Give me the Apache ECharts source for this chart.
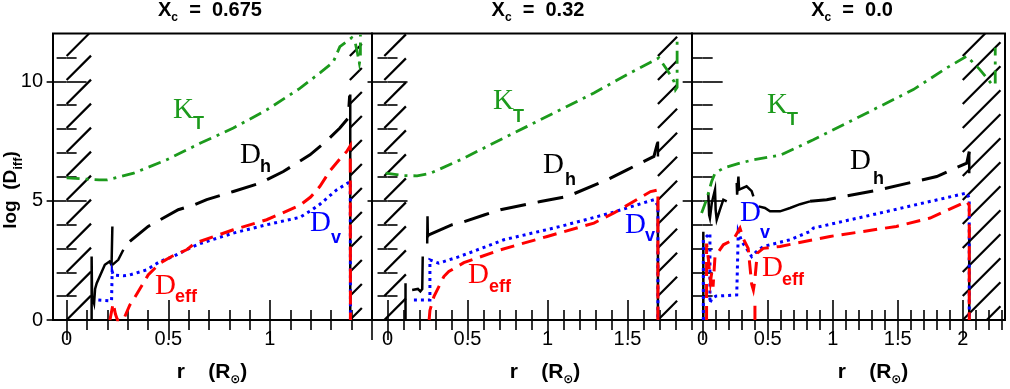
<!DOCTYPE html>
<html>
<head>
<meta charset="utf-8">
<script src="https://cdn.jsdelivr.net/npm/echarts@6/dist/echarts.min.js"></script>
<style>
html,body{margin:0;padding:0;background:#ffffff;}
#chart{width:1010px;height:389px;}
</style>
</head>
<body>
<div id="chart"></div>
<script>
// ===================== DATA =====================
const panelTitles = ['0.675', '0.32', '0.0'];

const xRange1 = [-0.067, 1.502];
const xRange2 = [-0.097, 1.903];
const xRange3 = [-0.082, 2.325];

const xMajor1 = [0, 0.5, 1, 1.5];
const xMajor2 = [0, 0.5, 1, 1.5];
const xMajor3 = [0, 0.5, 1, 1.5, 2];
const xLabels1 = [0, 0.5, 1];
const xLabels2 = [0, 0.5, 1, 1.5];
const xLabels3 = [0, 0.5, 1, 1.5, 2];

const yMajor = [0, 5, 10];
const yMinor = [1, 2, 3, 4, 6, 7, 8, 9, 11];
const yLabels = [0, 5, 10];

// hatched zones [r from, r to]
const hatch1 = [[0, 0.12], [1.393, 1.452]];
const hatch2 = [[-0.02, 0.115], [1.69, 1.81]];
const hatch3 = [[2.0, 2.29]];

// ---- Panel 1 : Xc = 0.675 ----
const kT1 = [[0, 5.95], [0.1, 5.9], [0.16, 5.87], [0.2, 5.87], [0.33, 6.15], [0.49, 6.7], [0.656, 7.4], [0.82, 8.04], [0.984, 8.8], [1.147, 9.7], [1.246, 10.35], [1.311, 10.8], [1.344, 11.45], [1.402, 11.82], [1.42, 11.6], [1.43, 11.2], [1.44, 10.75], [1.445, 11.0], [1.445, 11.95]];
const dHsolid1 = [
  [[0.123, 0], [0.123, 2.66], [0.125, 1.0], [0.135, 0.7], [0.14, 1.3], [0.148, 1.54], [0.188, 2.31], [0.211, 2.45], [0.221, 2.31], [0.225, 3.92]],
  [[0.225, 2.31], [0.254, 2.52], [0.279, 2.94]],
  [[1.395, 9.44], [1.395, 0]]
];
const dH1 = [[0.311, 3.29], [0.401, 3.92], [0.549, 4.62], [0.631, 4.83], [0.689, 5.04], [0.82, 5.38], [0.951, 5.73], [1.066, 6.22], [1.197, 6.92], [1.279, 7.5], [1.344, 8.04], [1.385, 8.46], [1.392, 9.4]];
const dV1 = [[0.156, 0.84], [0.221, 0.8], [0.224, 2.03], [0.229, 1.89], [0.279, 1.85], [0.311, 1.89], [0.393, 2.1], [0.459, 2.45], [0.524, 2.66], [0.606, 3.01], [0.656, 3.2], [0.82, 3.64], [0.984, 3.99], [1.147, 4.3], [1.205, 4.6], [1.246, 4.85], [1.328, 5.45], [1.395, 5.8], [1.396, 0]];
const dEff1 = [[0.213, 0], [0.229, 0.7], [0.24, 0.25], [0.25, 0], [0.279, 0], [0.311, 0.63], [0.328, 0.84], [0.377, 1.54], [0.401, 1.89], [0.459, 2.38], [0.516, 2.66], [0.59, 2.94], [0.631, 3.22], [0.82, 3.78], [0.984, 4.2], [1.147, 4.8], [1.2, 5.15], [1.246, 5.6], [1.295, 6.25], [1.344, 6.75], [1.377, 7.05], [1.395, 7.3], [1.396, 0]];
const dEffExtra1 = [];

// ---- Panel 2 : Xc = 0.32 ----
const kT2 = [[-0.012, 6.15], [0.1, 6.05], [0.185, 6.04], [0.27, 6.15], [0.456, 6.71], [0.664, 7.41], [0.873, 8.11], [1.081, 8.81], [1.29, 9.51], [1.498, 10.28], [1.696, 10.98], [1.75, 10.45], [1.79, 10.0], [1.8, 9.65], [1.81, 9.75], [1.81, 11.9]];
const dHsolid2 = [
  [[0.1125, 0], [0.1125, 1.54]],
  [[0.154, 1.26], [0.19, 1.3], [0.205, 1.2], [0.217, 1.3], [0.22, 2.66]],
  [[0.248, 3.2], [0.25, 4.34], [0.252, 3.5], [0.258, 3.57]],
  [[1.69, 7.48], [1.69, 6.85]],
  [[1.69, 5.0], [1.69, 0]]
];
const dH2 = [[0.258, 3.57], [0.404, 3.99], [0.452, 4.06], [0.608, 4.41], [0.706, 4.62], [0.956, 4.96], [1.123, 5.17], [1.373, 5.87], [1.5, 6.3], [1.665, 6.85], [1.69, 7.48]];
const dV2 = [[0.165, 0.84], [0.265, 0.84], [0.265, 2.52], [0.27, 2.45], [0.32, 2.38], [0.451, 2.66], [0.617, 3.08], [0.727, 3.36], [1.081, 3.92], [1.394, 4.48], [1.665, 5.04], [1.69, 4.8], [1.69, 0]];
const dEff2 = [[0.26, 0], [0.265, 0.4], [0.29, 0.98], [0.352, 1.82], [0.383, 2.03], [0.477, 2.4], [0.706, 2.94], [0.998, 3.5], [1.29, 4.06], [1.415, 4.48], [1.644, 5.38], [1.69, 5.45], [1.69, 0]];
const dEffExtra2 = [];

// ---- Panel 3 : Xc = 0.0 ----
const kT3 = [[-0.008, 4.48], [0.03, 5.04], [0.069, 5.8], [0.095, 6.15], [0.159, 6.36], [0.287, 6.57], [0.39, 6.71], [0.595, 6.9], [0.851, 7.55], [1.108, 8.25], [1.364, 8.95], [1.62, 9.65], [1.877, 10.56], [2.031, 11.05], [2.13, 10.5], [2.22, 9.9], [2.25, 9.85], [2.25, 11.4]];
const dHsolid3 = [
  [[0.005, 0], [0.005, 3.7]],
  [[0.043, 5.32], [0.05, 4.4], [0.056, 4.27], [0.07, 4.9], [0.082, 4.9], [0.095, 5.46], [0.1, 4.6], [0.108, 4.2], [0.133, 4.62], [0.159, 5.04], [0.185, 4.97]],
  [[0.262, 5.74], [0.265, 5.25], [0.275, 6.01], [0.28, 5.46], [0.338, 5.6], [0.377, 5.4], [0.39, 5.18]],
  [[0.43, 4.76], [0.479, 4.69], [0.518, 4.55], [0.595, 4.55], [0.672, 4.69], [0.749, 4.85], [0.826, 4.97]],
  [[2.05, 7.05], [2.05, 6.15]],
  [[2.05, 3.9], [2.05, 0]]
];
const dH3 = [[0.826, 4.97], [0.954, 5.04], [1.364, 5.46], [1.8, 6.01], [2.031, 6.57], [2.05, 7.05]];
const dV3 = [[0.005, 0], [0.005, 3.36], [0.03, 3.5], [0.056, 3.64], [0.056, 0.7], [0.07, 0.9], [0.1, 1.0], [0.262, 1.05], [0.274, 1.1], [0.274, 3.7], [0.3, 3.3], [0.377, 2.66], [0.42, 2.9], [0.466, 3.08], [0.672, 3.36], [0.826, 3.71], [0.851, 3.85], [1.364, 4.48], [2.031, 5.32], [2.05, 5.1], [2.05, 0]];
const dEff3 = [[0.03, 0], [0.03, 3.2], [0.045, 2.5], [0.06, 1.6], [0.07, 2.0], [0.08, 1.4], [0.095, 2.66], [0.159, 3.15], [0.235, 3.36], [0.287, 3.85], [0.313, 3.4], [0.35, 3.0], [0.377, 1.5], [0.39, 1.26], [0.4, 1.6], [0.42, 2.8], [0.466, 3.0], [0.595, 3.08], [0.979, 3.5], [1.236, 3.71], [1.49, 3.92], [1.749, 4.27], [2.031, 4.97], [2.05, 4.8], [2.05, 0]];
const dEffExtra3 = [[[0.402, 0], [0.402, 0.6]]];

// ===================== LAYOUT / STYLE =====================
const GREEN = '#1c9a1c', BLUE = '#0000ff', RED = '#ff0000', BLACK = '#000000';
const gridTop = 33.5, gridBottomPx = 320;
const gridBoxes = [[53, 372], [372, 692], [692, 1005]];
const panels = [
  {xr: xRange1, major: xMajor1, labels: xLabels1, hatch: hatch1, kT: kT1, dH: dH1, dHs: dHsolid1, dV: dV1, dE: dEff1, dEx: dEffExtra1},
  {xr: xRange2, major: xMajor2, labels: xLabels2, hatch: hatch2, kT: kT2, dH: dH2, dHs: dHsolid2, dV: dV2, dE: dEff2, dEx: dEffExtra2},
  {xr: xRange3, major: xMajor3, labels: xLabels3, hatch: hatch3, kT: kT3, dH: dH3, dHs: dHsolid3, dV: dV3, dE: dEff3, dEx: dEffExtra3}
];

function minorList(maxR) {
  const out = [];
  for (let i = 1; i * 0.1 <= maxR + 1e-9; i++) {
    if (i % 5 !== 0) out.push(i / 10);
  }
  return out;
}

const tickFont = {fontFamily: '"Liberation Sans", Arial, sans-serif', fontSize: 20, color: '#000'};

const grids = [], xAxes = [], yAxes = [], series = [];

function xAxisDef(p, rng, pos, ticks, len, labels) {
  return {
    type: 'value', gridIndex: p, position: pos, min: rng[0], max: rng[1],
    axisLine: {show: false}, splitLine: {show: false},
    axisTick: {show: true, inside: true, length: len, customValues: ticks, lineStyle: {color: '#000', width: 1.6}},
    axisLabel: labels ? Object.assign({show: true, margin: 9, customValues: labels}, tickFont) : {show: false},
    minorTick: {show: false}
  };
}
function yAxisDef(p, pos, ticks, len, labels) {
  return {
    type: 'value', gridIndex: p, position: pos, min: 0, max: 12,
    axisLine: {show: false}, splitLine: {show: false},
    axisTick: {show: true, inside: true, length: len, customValues: ticks, lineStyle: {color: '#000', width: 1.6}},
    axisLabel: labels ? Object.assign({show: true, margin: 10, customValues: labels}, tickFont) : {show: false},
    minorTick: {show: false}
  };
}

function hatchItem(params, api) {
  const r0 = api.value(0), r1 = api.value(1);
  const a = api.coord([r0, 12]);
  const b = api.coord([r1, 0]);
  const x0 = a[0], yt = a[1], x1 = b[0], yb = b[1];
  const s = 24;
  const children = [];
  for (let k = -30; k < 40; k++) {
    const C = x0 + yb - k * s;
    const xa = Math.max(x0, C - yb), xb = Math.min(x1, C - yt);
    if (xb > xa + 0.5) {
      children.push({type: 'line', shape: {x1: xa, y1: C - xa, x2: xb, y2: C - xb}, style: {stroke: '#000', lineWidth: 2.2}});
    }
  }
  return {type: 'group', children: children};
}

function lineS(p, data, color, width, dash, z) {
  return {
    type: 'line', xAxisIndex: 4 * p, yAxisIndex: 4 * p, data: data,
    symbol: 'none', showSymbol: false, smooth: false, clip: true, silent: true,
    lineStyle: {color: color, width: width, type: dash, cap: 'butt', join: 'miter'},
    z: z, animation: false
  };
}

panels.forEach((P, p) => {
  const [L, R] = gridBoxes[p];
  grids.push({left: L, top: gridTop, width: R - L, height: gridBottomPx - gridTop,
    show: true, borderColor: '#000', borderWidth: 2, backgroundColor: 'transparent',
    containLabel: false, outerBoundsMode: 'none'});
  const minor = minorList(P.xr[1]);
  xAxes.push(xAxisDef(p, P.xr, 'bottom', P.major, 20, P.labels));
  xAxes.push(xAxisDef(p, P.xr, 'bottom', minor, 10, null));
  xAxes.push(xAxisDef(p, P.xr, 'top', P.major, 20, null));
  xAxes.push(xAxisDef(p, P.xr, 'top', minor, 10, null));
  yAxes.push(yAxisDef(p, 'left', yMajor, 20, p === 0 ? yLabels : null));
  yAxes.push(yAxisDef(p, 'left', yMinor, 10, null));
  yAxes.push(yAxisDef(p, 'right', yMajor, 20, null));
  yAxes.push(yAxisDef(p, 'right', yMinor, 10, null));

  series.push({type: 'custom', xAxisIndex: 4 * p, yAxisIndex: 4 * p, data: P.hatch,
    renderItem: hatchItem, z: 2, silent: true, animation: false});
  P.dHs.forEach(seg => series.push(lineS(p, seg, BLACK, 2.5, 'solid', 3)));
  series.push(lineS(p, P.dH, BLACK, 3, [26, 12], 3));
  series.push(lineS(p, P.kT, GREEN, 2.8, [13, 6, 3, 6], 4));
  series.push(lineS(p, P.dV, BLUE, 3, [3, 4], 5));
  series.push(lineS(p, P.dE, RED, 3, [14, 8], 6));
  P.dEx.forEach(seg => series.push(lineS(p, seg, RED, 3, 'solid', 6)));
});

// ===================== TEXT =====================
const SERIF = '"Liberation Serif", "Times New Roman", serif';
const SANS = '"Liberation Sans", Arial, sans-serif';
function txt(x, y, text, font, color) {
  return {type: 'text', x: x, y: y, z: 100, silent: true,
    style: {text: text, font: font, fill: color, align: 'left', verticalAlign: 'top', textAlign: 'left', textVerticalAlign: 'top'}};
}
function richTxt(x, y, text, rich, rotation) {
  return {type: 'text', x: x, y: y, z: 100, silent: true, rotation: rotation || 0,
    style: {text: text, rich: rich, align: 'center', verticalAlign: 'middle', textAlign: 'center', textVerticalAlign: 'middle'}};
}
const MAINF = '29px ' + SERIF;
const SUBF = 'bold 18px ' + SANS;
// [main x, main top, sub x, sub top, sub text, color, main text]
const curveLabels = [
  [173, 96, 193, 115, 'T', GREEN, 'K'], [240, 141, 260, 158, 'h', BLACK, 'D'], [310, 209, 331, 229, 'v', BLUE, 'D'], [155, 272, 175, 288, 'eff', RED, 'D'],
  [493, 87, 513, 108, 'T', GREEN, 'K'], [543, 151, 565, 171, 'h', BLACK, 'D'], [625, 211, 645, 227, 'v', BLUE, 'D'], [468, 261, 489, 278, 'eff', RED, 'D'],
  [767, 91, 787, 111, 'T', GREEN, 'K'], [850, 147, 873, 170, 'h', BLACK, 'D'], [740, 199, 760, 224, 'v', BLUE, 'D'], [762, 254, 782, 271, 'eff', RED, 'D']
];
const graphics = [];
curveLabels.forEach(l => {
  graphics.push(txt(l[0], l[1], l[6], MAINF, l[5]));
  graphics.push(txt(l[2], l[3], l[4], SUBF, l[5]));
});
const titleCenters = [210, 538, 852];
const xTitleCenters = [212, 545, 873];
const titleRich = {
  a: {font: 'bold 20px ' + SANS, fill: '#000'},
  b: {font: 'bold 12px ' + SANS, fill: '#000', padding: [15, 0, 0, 0]}
};
const xTitleRich = {
  a: {font: 'bold 21px ' + SANS, fill: '#000'},
  b: {font: 'bold 12px "DejaVu Sans", sans-serif', fill: '#000', padding: [15, 0, 0, 0]}
};
panelTitles.forEach((t, i) => {
  graphics.push(richTxt(titleCenters[i], 10, '{a|X}{b|c}{a|  =  ' + t + '}', titleRich));
  graphics.push(richTxt(xTitleCenters[i], 372, '{a|r    (R}{b|⊙}{a|)}', xTitleRich));
});
graphics.push(richTxt(11, 190, '{a|log  (D}{b|iff}{a|)}', {
  a: {font: 'bold 19px ' + SANS, fill: '#000'},
  b: {font: 'bold 13px ' + SANS, fill: '#000', padding: [14, 0, 0, 0]}
}, Math.PI / 2));

const chart = echarts.init(document.getElementById('chart'), null, {renderer: 'canvas'});
chart.setOption({
  animation: false,
  backgroundColor: '#ffffff',
  grid: grids,
  xAxis: xAxes,
  yAxis: yAxes,
  series: series,
  graphic: {elements: graphics}
});
</script>
</body>
</html>
